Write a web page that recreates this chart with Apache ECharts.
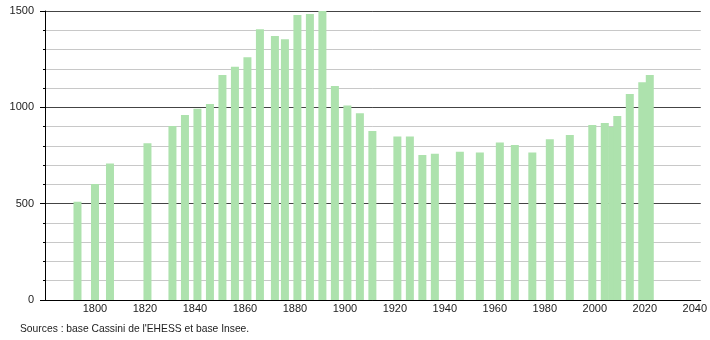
<!DOCTYPE html>
<html>
<head>
<meta charset="utf-8">
<script src="https://cdn.jsdelivr.net/npm/echarts@6/dist/echarts.min.js"></script>
<style>html,body{margin:0;padding:0;background:#fff}#c{width:710px;height:340px}</style>
</head>
<body>
<div id="c"></div>
<script>
const years = [1793,1800,1806,1821,1831,1836,1841,1846,1851,1856,1861,1866,1872,1876,1881,1886,1891,1896,1901,1906,1911,1921,1926,1931,1936,1946,1954,1962,1968,1975,1982,1990,1999,2004,2007,2009,2014,2019,2022];
const population = [510,602,709,813,903,960,993,1017,1168,1210,1260,1405,1370,1353,1479,1484,1500,1111,1010,969,877,848,848,753,759,770,765,817,804,765,834,856,908,919,898,955,1069,1130,1168];
const yTicks = [0,500,1000,1500];
const xTicks = [1800,1820,1840,1860,1880,1900,1920,1940,1960,1980,2000,2020,2040];
const sourceText = "Sources : base Cassini de l'EHESS et base Insee.";

const chart = echarts.init(document.getElementById('c'), null, {renderer:'canvas'});
const font = 'Liberation Sans, Arial, sans-serif';
chart.setOption({
  animation:false,
  grid:{left:45, right:9, top:11, bottom:40, containLabel:false},
  xAxis:{
    type:'value', min:1780, max:2042.4, interval:20,
    axisLine:{show:true, onZero:false, lineStyle:{color:'#000', width:1}},
    axisTick:{show:false},
    splitLine:{show:false},
    axisLabel:{margin:3, color:'#222', fontFamily:font, fontSize:11,
      showMinLabel:false, showMaxLabel:false,
      formatter:v => xTicks.indexOf(v) >= 0 ? String(v) : ''}
  },
  yAxis:{
    type:'value', min:yTicks[0], max:yTicks[yTicks.length-1], interval:500,
    axisLine:{show:true, lineStyle:{color:'#000', width:1}},
    axisTick:{show:true, length:5, lineStyle:{color:'#000'}},
    minorTick:{show:true, splitNumber:5, length:2, lineStyle:{color:'#000'}},
    splitLine:{show:true, lineStyle:{color:'#444', width:1}},
    minorSplitLine:{show:true, lineStyle:{color:'#c8c8c8', width:1}},
    axisLabel:{margin:11, color:'#222', fontFamily:font, fontSize:11,
      formatter:v => yTicks.indexOf(v) >= 0 ? String(v) : ''}
  },
  series:[{
    type:'bar',
    barWidth:8,
    itemStyle:{color:'#ade2ad'},
    data: years.map((y,i)=>[y, population[i]])
  }],
  graphic:[{
    type:'text', left:20, top:324,
    style:{text:sourceText, fill:'#222', font:'10.3px ' + font}
  }]
});
</script>
</body>
</html>
